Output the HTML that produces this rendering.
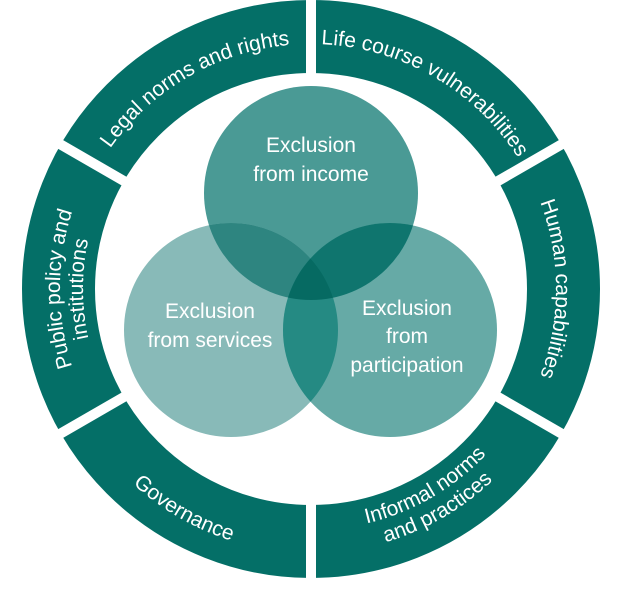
<!DOCTYPE html>
<html><head><style>
html,body{margin:0;padding:0;background:#fff;}
svg{display:block;}
text{font-family:"Liberation Sans",sans-serif;fill:#fff;font-size:21px;}
.c{font-size:21px;text-anchor:middle;}
</style></head><body>
<svg width="623" height="591" viewBox="0 0 623 591" xmlns="http://www.w3.org/2000/svg">
<defs>
<clipPath id="ci"><circle cx="311" cy="193" r="107"/></clipPath>
<clipPath id="cs"><circle cx="231" cy="330" r="107"/></clipPath>
<clipPath id="cp"><circle cx="390" cy="330" r="107"/></clipPath>
<path id="pLegal" d="M98.8,166.5 A245,245 0 0 1 311,44"/>
<path id="pLife" d="M311,44 A245,245 0 0 1 523.2,166.5"/>
<path id="pHuman" d="M523.2,166.5 A245,245 0 0 1 523.2,411.5"/>
<path id="pPub1" d="M93.6,414.5 A251,251 0 0 1 93.6,163.5"/>
<path id="pPub2" d="M113.5,403 A228,228 0 0 1 113.5,175"/>
<path id="pGov" d="M82.4,421 A264,264 0 0 0 311,553"/>
<path id="pInf1" d="M311,530 A241,241 0 0 0 519.7,409.5"/>
<path id="pInf2" d="M311,553 A264,264 0 0 0 539.6,421"/>
</defs>
<circle cx="311" cy="289" r="252.5" fill="none" stroke="#046f67" stroke-width="73"/>
<g stroke="#fff" stroke-width="10">
<line x1="484.2" y1="189" x2="579.5" y2="134"/>
<line x1="311" y1="89" x2="311" y2="-15"/>
<line x1="137.8" y1="189" x2="42.5" y2="134"/>
<line x1="137.8" y1="389" x2="42.5" y2="444"/>
<line x1="311" y1="489" x2="311" y2="595"/>
<line x1="484.2" y1="389" x2="579.5" y2="444"/>
</g>
<text><textPath href="#pLegal" startOffset="50%" text-anchor="middle">Legal norms and rights</textPath></text>
<text><textPath href="#pLife" startOffset="50%" text-anchor="middle">Life course vulnerabilities</textPath></text>
<text><textPath href="#pHuman" startOffset="50%" text-anchor="middle">Human capabilities</textPath></text>
<text><textPath href="#pPub1" startOffset="50%" text-anchor="middle">Public policy and</textPath></text>
<text><textPath href="#pPub2" startOffset="50%" text-anchor="middle">institutions</textPath></text>
<text><textPath href="#pGov" startOffset="50%" text-anchor="middle">Governance</textPath></text>
<text><textPath href="#pInf1" startOffset="50%" text-anchor="middle">Informal norms</textPath></text>
<text><textPath href="#pInf2" startOffset="50%" text-anchor="middle">and practices</textPath></text>

<circle cx="311" cy="193" r="107" fill="#4a9a95"/>
<circle cx="231" cy="330" r="107" fill="#88bab8"/>
<circle cx="390" cy="330" r="107" fill="#66aaa6"/>
<g clip-path="url(#ci)">
<circle cx="231" cy="330" r="107" fill="#2e8580"/>
<circle cx="390" cy="330" r="107" fill="#0f756e"/>
</g>
<g clip-path="url(#cs)">
<circle cx="390" cy="330" r="107" fill="#258a83"/>
<g clip-path="url(#cp)"><circle cx="311" cy="193" r="107" fill="#066a62"/></g>
</g>

<text class="c" x="311" y="152">Exclusion</text>
<text class="c" x="311" y="181">from income</text>
<text class="c" x="210" y="318">Exclusion</text>
<text class="c" x="210" y="347">from  services</text>
<text class="c" x="407" y="315">Exclusion</text>
<text class="c" x="407" y="343">from</text>
<text class="c" x="407" y="372">participation</text>
</svg>
</body></html>
